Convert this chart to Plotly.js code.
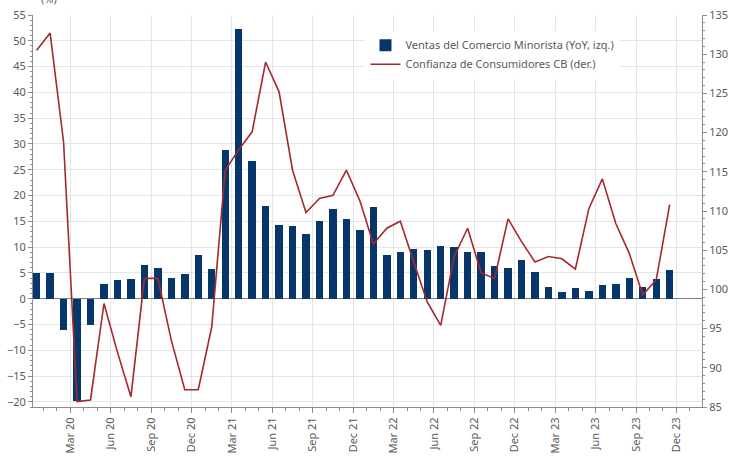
<!DOCTYPE html>
<html>
<head>
<meta charset="utf-8">
<script src="https://cdn.plot.ly/plotly-3.0.1.min.js"></script>
<style>html,body{margin:0;padding:0;background:#fff;}#chart{width:738px;height:458px;}</style>
</head>
<body>
<div id="chart"></div>
<script>
// Monthly categories Jan 2020 - Dec 2023
const months = [
  "Jan 20","Feb 20","Mar 20","Apr 20","May 20","Jun 20","Jul 20","Aug 20","Sep 20","Oct 20","Nov 20","Dec 20",
  "Jan 21","Feb 21","Mar 21","Apr 21","May 21","Jun 21","Jul 21","Aug 21","Sep 21","Oct 21","Nov 21","Dec 21",
  "Jan 22","Feb 22","Mar 22","Apr 22","May 22","Jun 22","Jul 22","Aug 22","Sep 22","Oct 22","Nov 22","Dec 22",
  "Jan 23","Feb 23","Mar 23","Apr 23","May 23","Jun 23","Jul 23","Aug 23","Sep 23","Oct 23","Nov 23","Dec 23"
];
// Retail sales YoY (%), left axis
const retailSales = [
  5.0, 4.9, -6.0, -19.9, -5.1, 2.8, 3.6, 3.9, 6.5, 5.9, 4.0, 4.8,
  8.4, 5.7, 28.8, 52.2, 26.7, 17.9, 14.3, 14.1, 12.6, 15.0, 17.4, 15.5,
  13.3, 17.7, 8.4, 9.0, 9.7, 9.4, 10.3, 10.1, 9.0, 9.0, 6.3, 5.9,
  7.5, 5.2, 2.2, 1.3, 2.1, 1.5, 2.7, 2.9, 4.0, 2.2, 3.9, 5.5
];
// Conference Board consumer confidence, right axis
const confidence = [
  130.5, 132.7, 118.8, 85.7, 85.9, 98.2, 92.0, 86.3, 101.4, 101.4, 93.5, 87.2,
  87.2, 95.2, 115.2, 117.8, 120.1, 129.0, 125.2, 115.2, 109.8, 111.6, 112.0, 115.2,
  111.3, 105.8, 107.8, 108.7, 103.5, 98.4, 95.4, 104.2, 107.8, 102.1, 101.4, 109.0,
  106.1, 103.5, 104.2, 103.9, 102.6, 110.3, 114.1, 108.4, 104.6, 99.3, 101.2, 110.8
];
const tickLabels = [
  "Mar 20","Jun 20","Sep 20","Dec 20","Mar 21","Jun 21","Sep 21","Dec 21",
  "Mar 22","Jun 22","Sep 22","Dec 22","Mar 23","Jun 23","Sep 23","Dec 23"
];
const seriesNames = ["Ventas del Comercio Minorista (YoY, izq.)", "Confianza de Consumidores CB (der.)"];

const xIdx = months.map((m, i) => i);
const tickVals = tickLabels.map(l => months.indexOf(l) + 0.5);

const FONT = "Noto Sans, Open Sans, sans-serif";
const TXT = "#595959";
const GRID = "#E3E6E8";
const AX = "#8C8C8C";

const traces = [
  {
    type: "bar", name: seriesNames[0], x: xIdx, y: retailSales,
    marker: {color: "#07376A"}, width: 0.55, yaxis: "y"
  },
  {
    type: "scatter", mode: "lines", name: seriesNames[1], x: xIdx, y: confidence,
    line: {color: "#A3292C", width: 1.6}, yaxis: "y2"
  }
];

const layout = {
  width: 738, height: 458,
  margin: {l: 33, r: 36, t: 15, b: 51},
  paper_bgcolor: "#fff", plot_bgcolor: "#fff",
  font: {family: FONT, size: 11, color: TXT},
  showlegend: true,
  legend: {
    x: 0.497, y: 0.96, xanchor: "left", yanchor: "top",
    bgcolor: "rgba(255,255,255,1)", borderwidth: 0,
    font: {family: FONT, size: 11, color: TXT},
    tracegroupgap: 0, itemwidth: 30
  },
  bargap: 0,
  xaxis: {
    range: [-0.27, 49.4],
    tickmode: "array", tickvals: tickVals, ticktext: tickLabels,
    tickangle: -90, ticks: "outside", ticklen: 5, tickcolor: AX,
    showgrid: true, gridcolor: GRID, gridwidth: 1,
    showline: true, linecolor: AX, linewidth: 1,
    zeroline: false,
    tickfont: {family: FONT, size: 11, color: TXT},
    minor: {tickmode: "linear", tick0: 0.5, dtick: 1, ticks: "outside", ticklen: 3, tickcolor: AX, showgrid: false}
  },
  yaxis: {
    range: [-21, 55], tickmode: "linear", tick0: 0, dtick: 5,
    ticks: "outside", ticklen: 4, tickcolor: AX,
    showgrid: true, gridcolor: GRID, gridwidth: 1,
    showline: true, linecolor: AX, linewidth: 1,
    zeroline: true, zerolinecolor: "#7F7F7F", zerolinewidth: 1,
    tickfont: {family: FONT, size: 11, color: TXT},
    minor: {tickmode: "linear", tick0: 0, dtick: 1, ticks: "outside", ticklen: 2, tickcolor: AX, showgrid: false}
  },
  yaxis2: {
    range: [85, 135], overlaying: "y", side: "right",
    tickmode: "linear", tick0: 85, dtick: 5,
    ticks: "outside", ticklen: 4, tickcolor: AX,
    showgrid: false, zeroline: false,
    showline: true, linecolor: AX, linewidth: 1,
    tickfont: {family: FONT, size: 11, color: TXT},
    minor: {tickmode: "linear", tick0: 85, dtick: 1, ticks: "outside", ticklen: 2, tickcolor: AX, showgrid: false}
  },
  annotations: [
    {text: "(%)", xref: "paper", yref: "paper", x: 0.024, y: 1.043, xanchor: "center", yanchor: "middle",
     showarrow: false, font: {family: FONT, size: 11, color: TXT}}
  ]
};

Plotly.newPlot("chart", traces, layout, {displayModeBar: false, staticPlot: true});
</script>
</body>
</html>
